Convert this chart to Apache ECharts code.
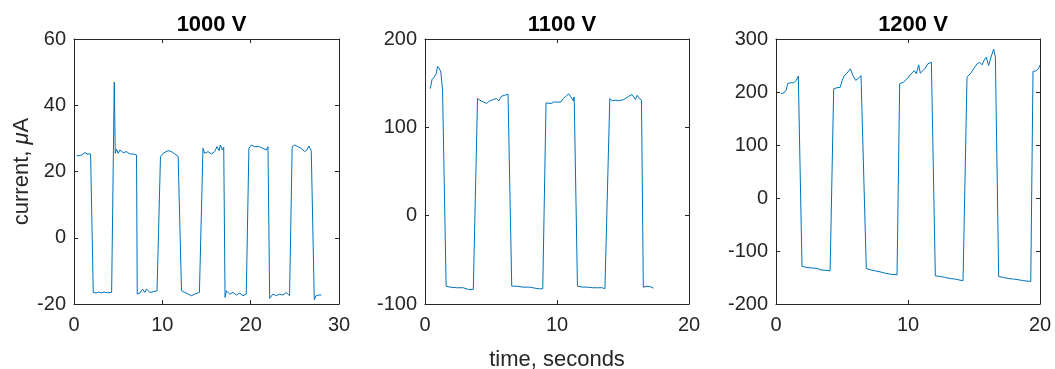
<!DOCTYPE html>
<html><head><meta charset="utf-8">
<script src="https://cdn.jsdelivr.net/npm/echarts@6/dist/echarts.min.js"></script>
<style>html,body{margin:0;padding:0;background:#fff}#c{width:1055px;height:369px}</style>
</head><body><div id="c"></div>
<script>
const titles = ['1000 V', '1100 V', '1200 V'];
const xTicks1 = [0, 10, 20, 30];
const xTicks23 = [0, 10, 20];
const yTicks1 = [-20, 0, 20, 40, 60];
const yTicks2 = [-100, 0, 100, 200];
const yTicks3 = [-200, -100, 0, 100, 200, 300];

const data1000 = [
 [0.3,24.7],[0.87,25],[1.24,25.7],[1.5,25.3],[1.88,25.3],[2.18,-16.5],[2.5,-16.7],[2.8,-16.4],[3.1,-16.6],[3.4,-16.4],[3.8,-16.6],[4.26,-16.5],
 [4.56,47],[4.67,25.5],[4.82,26.7],[5.0,25.5],[5.2,26.5],[5.57,25.7],[5.95,26],[6.33,25.3],[6.7,25.3],[7.08,25],
 [7.16,-17],[7.46,-16.7],[7.76,-15.5],[8.02,-16.5],[8.21,-15.5],[8.59,-16.5],[8.96,-16.3],[9.4,-16],
 [9.79,24.5],[10.09,25.5],[10.66,26.3],[11.04,26],[11.41,25.3],[11.79,24.5],
 [12.17,-16],[12.55,-16.5],[12.92,-17],[13.3,-17.5],[13.67,-17],[14.2,-16.5],
 [14.6,27],[14.8,25.5],[15.18,26],[15.55,25.3],[15.93,26],[16.19,27.5],[16.42,26.3],[16.57,28],[16.8,26.5],[16.95,27.3],
 [17.1,-18],[17.25,-16],[17.63,-17],[18.0,-16.5],[18.38,-17.3],[18.76,-16.7],[19.13,-17.5],[19.5,-17],
 [19.8,27],[20.08,28],[20.45,27.5],[21.02,27.5],[21.39,27],[21.77,26.5],[21.96,27.5],
 [22.15,-18.3],[22.52,-17],[22.9,-17.5],[23.28,-17],[23.65,-17.3],[24.03,-16.5],[24.4,-17.5],
 [24.7,27.5],[24.97,28],[25.35,27.5],[25.72,27],[26.1,26],[26.37,26.5],[26.59,27.7],[26.86,26.3],[27.04,26],
 [27.2,-18.7],[27.4,-17.5],[27.7,-17.3],[28.0,-17.3]
];
const data1100 = [
 [0.4,143.8],[0.53,154],[0.7,157],[0.85,160.7],[0.95,169],[1.1,166],[1.2,162.5],[1.33,142],
 [1.6,-79.8],[1.9,-80.9],[2.4,-81.6],[2.9,-81.6],[3.28,-83.5],[3.66,-83.5],[3.7,-84],
 [3.98,132.6],[4.16,130.7],[4.41,128.8],[4.66,127],[4.91,130],[5.21,131.5],[5.41,132.6],[5.59,130],[5.79,135.2],[6.04,136.3],[6.29,137.5],[6.42,139],
 [6.57,-79.8],[6.92,-79.8],[7.42,-80.9],[7.92,-80.9],[8.3,-82],[8.67,-82.8],[8.92,-82.8],
 [9.17,127.7],[9.55,127],[9.8,128.8],[10.05,128.5],[10.3,128.8],[10.48,132.6],[10.68,135.2],[10.88,138],[11.05,134.5],[11.23,130],[11.3,134.5],
 [11.55,-79.8],[11.93,-80.9],[12.31,-80.9],[12.68,-81.6],[13.06,-81.6],[13.43,-81.6],[13.63,-82.8],
 [14.0,132.6],[14.18,130],[14.43,130.7],[14.69,130],[14.81,129.2],[15.06,131.5],[15.44,135.2],[15.69,137.1],[15.81,135.6],[15.94,131.5],[16.07,136.3],[16.24,132.6],[16.4,130.7],
 [16.54,-81],[16.82,-79.8],[17.07,-80.5],[17.3,-82]
];
const data1200 = [
 [0.38,197],[0.58,198],[0.78,204],[0.88,215.6],[1.09,217.5],[1.34,217.5],[1.54,222],[1.69,230],
 [1.97,-129],[2.35,-131],[2.73,-132],[3.11,-133],[3.48,-136],[3.86,-136.5],[4.1,-137.5],
 [4.37,206],[4.62,208],[4.87,209],[5.0,221],[5.18,231],[5.38,235.6],[5.63,243.75],[5.83,231],[6.04,222],[6.26,226],[6.44,231],
 [6.84,-133],[7.15,-135.6],[7.53,-137.5],[7.9,-139.4],[8.28,-141.9],[8.66,-143.75],[9.17,-145],
 [9.37,215.6],[9.67,218.75],[9.93,225],[10.18,232.5],[10.48,240.6],[10.63,234.4],[10.81,251.2],[10.93,235.6],[11.14,240.6],[11.31,245],[11.49,253],[11.64,250],[11.77,256],
 [12.07,-147],[12.45,-148],[12.83,-150],[13.2,-152],[13.58,-153],[13.84,-154.4],[14.17,-156],
 [14.47,228],[14.72,234.4],[14.97,243.75],[15.23,253],[15.43,256],[15.61,251.2],[15.78,260.6],[15.93,265.6],[16.11,250],[16.29,265.6],[16.49,281],[16.62,265.6],
 [16.87,-148],[17.25,-150],[17.63,-152],[18.01,-153],[18.39,-154.4],[18.77,-156],[19.3,-157.5],
 [19.47,239],[19.72,240],[19.9,245],[20.0,251]
];

const panels = [
 {title: titles[0], data: data1000, xt: xTicks1, yt: yTicks1, left: 74, width: 265},
 {title: titles[1], data: data1100, xt: xTicks23, yt: yTicks2, left: 425, width: 264},
 {title: titles[2], data: data1200, xt: xTicks23, yt: yTicks3, left: 776, width: 264}
];
const FONT = 'Liberation Sans, Arial, Helvetica, sans-serif';
const axCol = '#262626';
const gTop = 39, gHeight = 265;

const grid = [], xAxis = [], yAxis = [], series = [], title = [];
panels.forEach((p, i) => {
  grid.push({left: p.left, top: gTop, width: p.width, height: gHeight, containLabel: false, outerBoundsMode: 'none'});
  const xmin = p.xt[0], xmax = p.xt[p.xt.length - 1];
  const ymin = p.yt[0], ymax = p.yt[p.yt.length - 1];
  const xi = p.xt[1] - p.xt[0], yi = p.yt[1] - p.yt[0];
  const common = {
    axisLine: {show: true, onZero: false, lineStyle: {color: axCol, width: 1}},
    axisTick: {show: true, inside: true, length: 4, lineStyle: {color: axCol}},
    splitLine: {show: false}
  };
  xAxis.push(Object.assign({type: 'value', gridIndex: i, position: 'bottom', min: xmin, max: xmax, interval: xi,
    axisLabel: {show: true, color: axCol, fontFamily: FONT, fontSize: 20, margin: 11},
    name: i === 1 ? 'time, seconds' : '', nameLocation: 'middle', nameGap: 45,
    nameTextStyle: {color: axCol, fontFamily: FONT, fontSize: 22}}, common));
  xAxis.push(Object.assign({type: 'value', gridIndex: i, position: 'top', min: xmin, max: xmax, interval: xi,
    axisLabel: {show: false}}, common));
  yAxis.push(Object.assign({type: 'value', gridIndex: i, position: 'left', min: ymin, max: ymax, interval: yi,
    axisLabel: {show: true, color: axCol, fontFamily: FONT, fontSize: 20, margin: 8},
    name: i === 0 ? 'current, {i|μ}A' : '', nameLocation: 'middle', nameGap: 38,
    nameTextStyle: {color: axCol, fontFamily: FONT, fontSize: 22,
      rich: {i: {fontStyle: 'italic', fontFamily: FONT, fontSize: 22, color: axCol}}}}, common));
  yAxis.push(Object.assign({type: 'value', gridIndex: i, position: 'right', min: ymin, max: ymax, interval: yi,
    axisLabel: {show: false}}, common));
  series.push({type: 'line', xAxisIndex: 2 * i, yAxisIndex: 2 * i, data: p.data, showSymbol: false, symbol: 'none',
    lineStyle: {color: '#0072BD', width: 1}, animation: false, clip: true});
  title.push({text: p.title, left: p.left + p.width / 2, top: 9, textAlign: 'center',
    textStyle: {fontFamily: FONT, fontSize: 22, fontWeight: 'bold', color: '#000'}});
});

const chart = echarts.init(document.getElementById('c'), null, {renderer: 'canvas'});
chart.setOption({backgroundColor: '#fff', animation: false, title, grid, xAxis, yAxis, series});
</script></body></html>
